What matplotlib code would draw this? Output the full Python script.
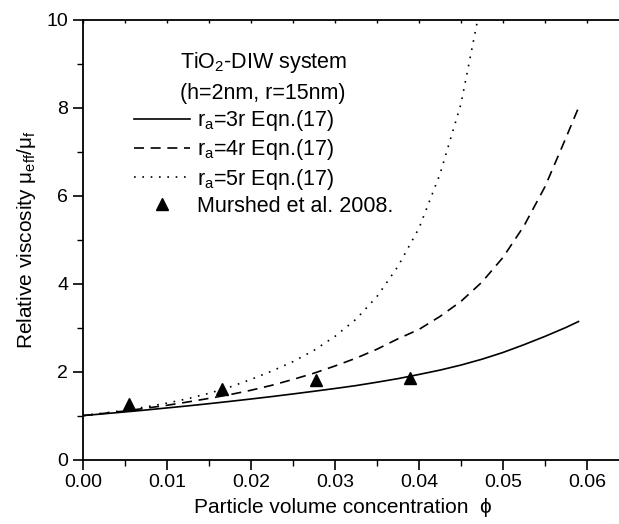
import matplotlib
matplotlib.use("Agg")
import matplotlib.pyplot as plt

plt.rcParams['font.family'] = ['Liberation Sans', 'DejaVu Sans']
plt.rcParams['mathtext.fontset'] = 'custom'
plt.rcParams['mathtext.rm'] = 'Liberation Sans'
plt.rcParams['mathtext.it'] = 'Liberation Sans'
plt.rcParams['mathtext.bf'] = 'Liberation Sans:bold'

# model curves, Eqn.(17)
phi = [0.0, 0.0025, 0.005, 0.0075, 0.01, 0.0125, 0.015, 0.0175, 0.02, 0.0225, 0.025, 0.0275,
       0.03, 0.0325, 0.035, 0.0375, 0.04, 0.0425, 0.045, 0.0475, 0.05, 0.0525, 0.055, 0.0575, 0.059]
visc_3r = [1.000, 1.041, 1.083, 1.127, 1.174, 1.221, 1.271, 1.323, 1.377, 1.433, 1.492, 1.553,
           1.616, 1.682, 1.759, 1.840, 1.935, 2.034, 2.149, 2.282, 2.435, 2.612, 2.801, 3.004, 3.139]
visc_4r = [1.000, 1.051, 1.105, 1.168, 1.234, 1.310, 1.391, 1.477, 1.576, 1.690, 1.822, 1.964,
           2.128, 2.305, 2.509, 2.746, 2.959, 3.254, 3.597, 4.035, 4.595, 5.312, 6.203, 7.316, 8.004]

phi_5r = [0.0, 0.0025, 0.005, 0.0075, 0.01, 0.0125, 0.015, 0.0175, 0.02, 0.0225, 0.025, 0.0275,
          0.03, 0.0325, 0.035, 0.0375, 0.04, 0.0425, 0.045, 0.0475]
visc_5r = [1.000, 1.057, 1.122, 1.197, 1.284, 1.384, 1.507, 1.649, 1.822, 2.014, 2.226, 2.484,
           2.801, 3.190, 3.706, 4.393, 5.259, 6.488, 8.085, 10.49]

# Murshed et al. 2008
phi_exp = [0.0055, 0.0166, 0.0277, 0.0389]
visc_exp = [1.26, 1.61, 1.81, 1.86]

fig = plt.figure(figsize=(6.19, 5.24), dpi=100)
ax = fig.add_axes([0.134, 0.123, 0.882, 0.839])

ax.plot(phi, visc_3r, color='black', lw=1.2, linestyle='-', label=r'r$_{\mathrm{a}}$=3r Eqn.(17)')
ax.plot(phi, visc_4r, color='black', lw=1.2, linestyle=(0, (6, 4)), label=r'r$_{\mathrm{a}}$=4r Eqn.(17)')
ax.plot(phi_5r, visc_5r, color='black', lw=1.2, linestyle=(0, (1, 4)), label=r'r$_{\mathrm{a}}$=5r Eqn.(17)')
ax.plot(phi_exp, visc_exp, linestyle='none', marker='^', color='black', markersize=9,
        label='Murshed et al. 2008.')

ax.set_xlim(0, 0.065)
ax.set_ylim(0, 10)
ax.set_xticks([0.00, 0.01, 0.02, 0.03, 0.04, 0.05, 0.06])
ax.set_xticklabels(['0.00', '0.01', '0.02', '0.03', '0.04', '0.05', '0.06'])
ax.set_xticks([0.005, 0.015, 0.025, 0.035, 0.045, 0.055], minor=True)
ax.set_yticks([0, 2, 4, 6, 8, 10])
ax.set_yticks([1, 3, 5, 7, 9], minor=True)

for s in ax.spines.values():
    s.set_linewidth(1.3)
ax.spines['right'].set_visible(False)

ax.tick_params(which='major', direction='out', length=7, width=1.2, labelsize=14, top=False)
ax.tick_params(which='minor', direction='out', length=4, width=1.0, top=False)

# short inward ticks on the top edge
sec = ax.secondary_xaxis('top')
sec.set_xticks([0.0, 0.005, 0.01, 0.015, 0.02, 0.025, 0.03, 0.035, 0.04, 0.045, 0.05, 0.055, 0.06])
sec.tick_params(direction='in', length=2.5, width=1.0, labeltop=False)
sec.spines['top'].set_visible(False)

ax.set_xlabel('Particle volume concentration  ϕ', fontsize=15)
ax.xaxis.set_label_coords(0.477, -0.088)
ax.set_ylabel(r'Relative viscosity $\mu_{\mathrm{eff}}/\mu_{\mathrm{f}}$', fontsize=15, labelpad=6)

leg = ax.legend(loc='upper left', bbox_to_anchor=(0.093, 0.932), frameon=False,
                title='TiO$_{2}$-DIW system\n(h=2nm, r=15nm)',
                fontsize=15.5, title_fontsize=15.5, handlelength=2.6, handletextpad=0.33,
                labelspacing=0.2, borderpad=0, borderaxespad=0)
leg.get_title().set_linespacing(1.5)

fig.savefig('out.png', dpi=100)
